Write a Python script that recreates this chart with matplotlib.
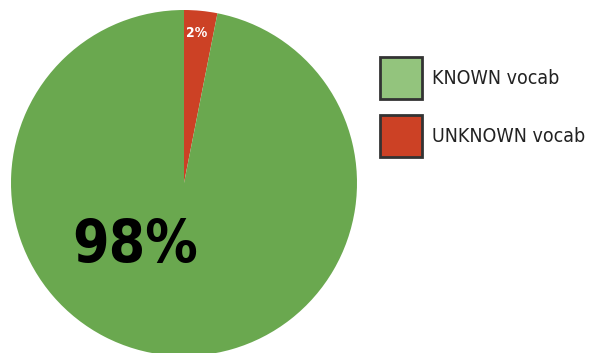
import matplotlib
matplotlib.use('Agg')
from matplotlib import pyplot as plt
from matplotlib.patches import Rectangle

categories = ['UNKNOWN vocab', 'KNOWN vocab']
values = [3.1, 96.9]
slice_labels = ['2%', '98%']
slice_colors = ['#cc4125', '#6aa84f']
legend_names = ['KNOWN vocab', 'UNKNOWN vocab']
legend_colors = ['#93c47d', '#cc4125']

plt.rcParams['font.family'] = ['DejaVu Sans']

W, H = 589, 353
fig = plt.figure(figsize=(W / 100, H / 100), dpi=100)

# pie axes placed in pixels: center (184,183), radius 173
cx, cy, r = 184, 183, 173
ax = fig.add_axes([(cx - r) / W, (H - cy - r) / H, 2 * r / W, 2 * r / H])
ax.pie(values, colors=slice_colors, startangle=90, counterclock=False,
       radius=1, wedgeprops=dict(linewidth=0))
ax.set_xlim(-1, 1)
ax.set_ylim(-1, 1)
ax.set_aspect('equal')
ax.axis('off')

ax.text(0.075, 0.867, slice_labels[0], color='white', fontsize=10,
        fontweight='bold', stretch='condensed', ha='center', va='center')
ax.text(-0.283, -0.36, slice_labels[1], color='black', fontsize=42,
        fontweight='bold', stretch='condensed', ha='center', va='center')

# legend
for i, (name, col) in enumerate(zip(legend_names, legend_colors)):
    top = 57 + i * 58
    fig.patches.append(Rectangle((380 / W, (H - top - 42) / H), 42 / W, 42 / H,
                                 transform=fig.transFigure, facecolor=col,
                                 edgecolor='#333333', linewidth=2))
    fig.text(432 / W, (H - top - 21) / H, name, fontsize=14, color='#222222',
             stretch='condensed', ha='left', va='center')

fig.savefig('out.png', dpi=100)
plt.close()
